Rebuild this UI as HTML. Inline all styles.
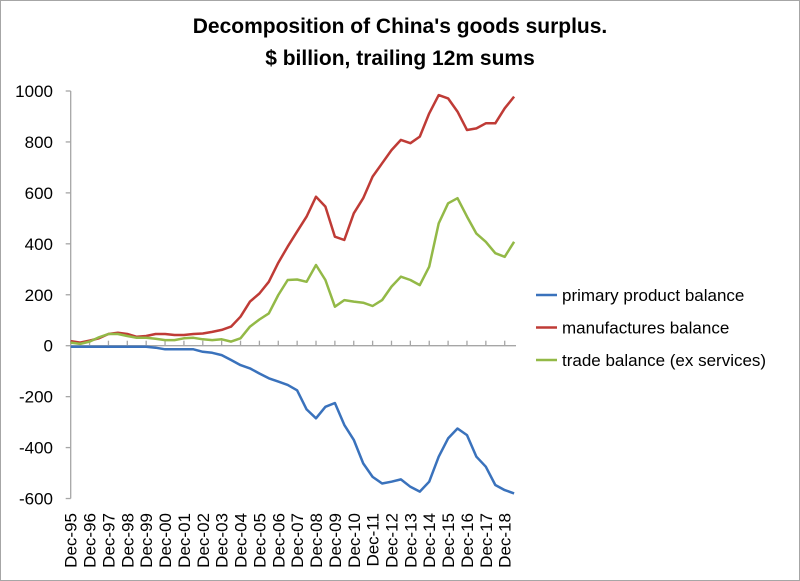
<!DOCTYPE html>
<html><head><meta charset="utf-8"><style>
body{margin:0;background:#fff;}
svg{display:block;font-family:"Liberation Sans",sans-serif;}
</style></head><body>
<svg id="c" width="800" height="581">
<rect x="0.5" y="0.5" width="799" height="580" fill="#fff" stroke="#a6a6a6"/>
<text x="400" y="33" text-anchor="middle" font-size="21" font-weight="bold">Decomposition of China's goods surplus.</text>
<text x="400" y="65" text-anchor="middle" font-size="21" font-weight="bold">$ billion, trailing 12m sums</text>
</svg>
<script>
const yearLabels=["Dec-95","Dec-96","Dec-97","Dec-98","Dec-99","Dec-00","Dec-01","Dec-02","Dec-03","Dec-04","Dec-05","Dec-06","Dec-07","Dec-08","Dec-09","Dec-10","Dec-11","Dec-12","Dec-13","Dec-14","Dec-15","Dec-16","Dec-17","Dec-18"];
const yTicks=[-600,-400,-200,0,200,400,600,800,1000];
const manufactures=[18,12,20,29,46,51,46,35,38,46,46,42,42,46,48,54,62,75,114,173,205,251,326,389,448,507,585,546,428,415,520,579,664,716,768,808,795,821,912,984,971,919,847,853,873,873,932,978];
const trade=[12,7,16,33,46,46,38,31,31,27,22,22,29,31,25,22,25,16,29,75,103,127,199,258,260,251,317,258,153,179,173,169,156,179,232,271,258,238,310,480,559,579,507,440,408,363,349,408];
const primary=[-4,-4,-4,-4,-4,-4,-4,-4,-4,-8,-14,-14,-14,-14,-24,-28,-37,-56,-76,-89,-109,-128,-141,-154,-175,-250,-285,-240,-225,-311,-370,-462,-515,-541,-534,-525,-554,-573,-534,-436,-364,-325,-351,-436,-475,-547,-567,-580];
const series=[
 {name:"primary product balance",vals:primary,color:"#3a72bc",key:"primary"},
 {name:"manufactures balance",vals:manufactures,color:"#bf3b36",key:"manufactures"},
 {name:"trade balance (ex services)",vals:trade,color:"#93b947",key:"trade"}];
const NS="http://www.w3.org/2000/svg";
const svg=document.getElementById('c');
const x0=70.7,yearW=18.87;
const X=t=>x0+t*yearW;
const Y=v=>345.7-v*0.2547;
function mk(tag,attrs,parent){const e=document.createElementNS(NS,tag);for(const k in attrs)e.setAttribute(k,attrs[k]);(parent||svg).appendChild(e);return e;}
const ya=mk('line',{x1:x0,x2:x0,y1:Y(1000),y2:Y(-600),stroke:'#a6a6a6','stroke-width':1.3});


yTicks.forEach(v=>{
 const tk=mk('line',{x1:x0-5,x2:x0,y1:Y(v),y2:Y(v),stroke:'#a6a6a6','stroke-width':1.3});
 
 
 const t=mk('text',{x:53,y:Y(v)+6,'text-anchor':'end','font-size':17,fill:'#000'});
 t.textContent=v;
 
 
});
const xEnd=516;
const xa=mk('line',{x1:x0,x2:xEnd,y1:Y(0),y2:Y(0),stroke:'#a6a6a6','stroke-width':1.3});


yearLabels.forEach((lab,i)=>{
 const tk=mk('line',{x1:X(i),x2:X(i),y1:Y(0)-5,y2:Y(0),stroke:'#a6a6a6','stroke-width':1.3});
 
 
 const t=mk('text',{x:0,y:0,'font-size':17,'text-anchor':'end',transform:`translate(${X(i)+6},513) rotate(-90)`});
 t.textContent=lab;
 
 
});
series.forEach((s,si)=>{
 const d=s.vals.map((v,i)=>(i?'L':'M')+X(i*0.5).toFixed(1)+','+Y(v).toFixed(1)).join('');
 const p=mk('path',{d:d,fill:'none',stroke:s.color,'stroke-width':2.5,'stroke-linejoin':'round'});
 
 
 const ly=295+si*32.5;
 const g=mk('g',{});
 
 
 mk('line',{x1:536,x2:557,y1:ly,y2:ly,stroke:s.color,'stroke-width':2.5},g);
 const t=mk('text',{x:562,y:ly+6,'font-size':17},g);
 t.textContent=s.name;
});
</script>
</body></html>
